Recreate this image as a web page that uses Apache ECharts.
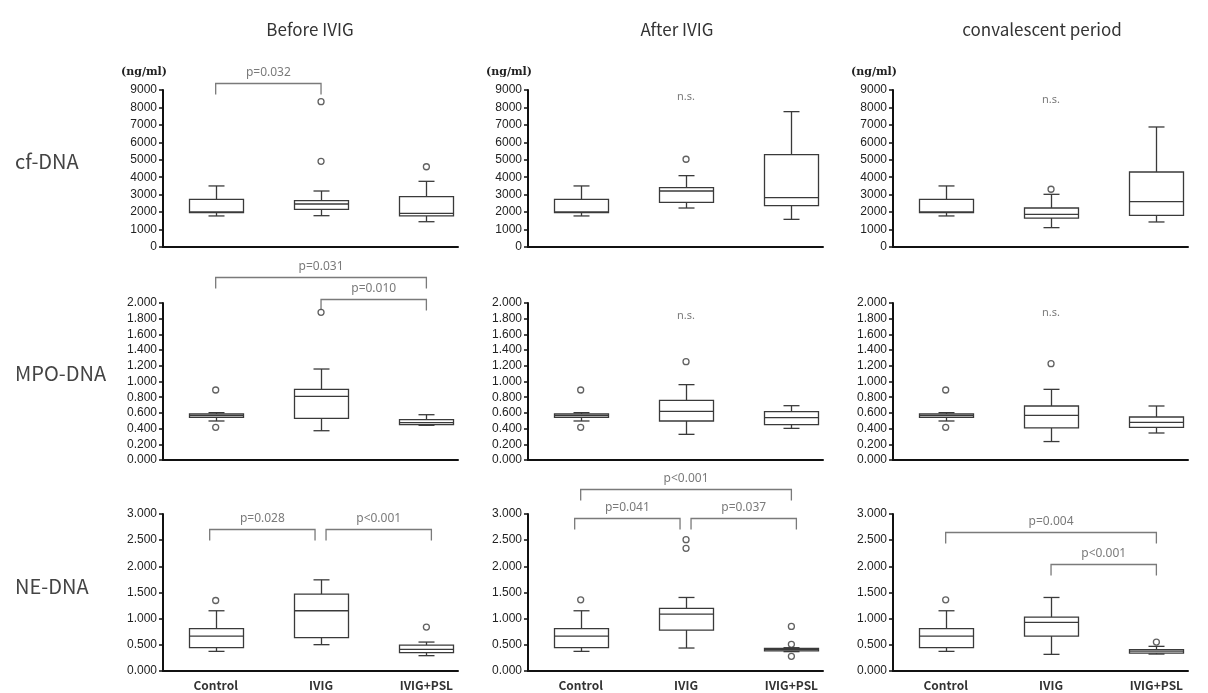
<!DOCTYPE html>
<html>
<head>
<meta charset="utf-8">
<title>cf-DNA / MPO-DNA / NE-DNA</title>
<script src="https://cdn.jsdelivr.net/npm/echarts@6/dist/echarts.min.js"></script>
<style>
  html, body { margin: 0; padding: 0; background: #fff; }
  #chart { width: 1208px; height: 693px; }
</style>
</head>
<body>
<div id="chart"></div>
<script>
const groups = ['Control', 'IVIG', 'IVIG+PSL']
const periods = ['Before IVIG', 'After IVIG', 'convalescent period']
const markers = ['cf-DNA', 'MPO-DNA', 'NE-DNA']

// 箱：[min, Q1, median, Q3, max]，按 Control / IVIG / IVIG+PSL
const cfBefore = [[1780, 1970, 2010, 2730, 3500], [1795, 2160, 2465, 2655, 3210], [1450, 1780, 1930, 2885, 3765]]
const cfAfter = [[1780, 1970, 2010, 2730, 3500], [2235, 2560, 3210, 3400, 4090], [1585, 2370, 2830, 5295, 7760]]
const cfConv = [[1780, 1970, 2010, 2730, 3500], [1110, 1660, 1875, 2235, 3020], [1435, 1815, 2600, 4300, 6880]]
const mpoBefore = [[0.497, 0.544, 0.565, 0.586, 0.603], [0.373, 0.531, 0.811, 0.900, 1.159], [0.442, 0.450, 0.475, 0.514, 0.577]]
const mpoAfter = [[0.497, 0.544, 0.565, 0.586, 0.603], [0.327, 0.497, 0.620, 0.760, 0.960], [0.403, 0.450, 0.539, 0.616, 0.692]]
const mpoConv = [[0.497, 0.544, 0.565, 0.586, 0.603], [0.235, 0.408, 0.569, 0.688, 0.900], [0.344, 0.416, 0.480, 0.548, 0.688]]
const neBefore = [[0.375, 0.446, 0.667, 0.808, 1.151], [0.503, 0.636, 1.151, 1.468, 1.742], [0.293, 0.350, 0.414, 0.496, 0.553]]
const neAfter = [[0.375, 0.446, 0.667, 0.808, 1.151], [0.439, 0.782, 1.086, 1.195, 1.405], [0.370, 0.385, 0.410, 0.430, 0.445]]
const neConv = [[0.375, 0.446, 0.667, 0.808, 1.151], [0.318, 0.667, 0.928, 1.030, 1.405], [0.324, 0.343, 0.380, 0.408, 0.471]]

// 离群点：[组, 值]
const cfBeforeOut = [[1, 8330], [1, 4910], [2, 4600]]
const cfAfterOut = [[1, 5030]]
const cfConvOut = [[1, 3310]]
const mpoBeforeOut = [[0, 0.892], [0, 0.416], [1, 1.881]]
const mpoAfterOut = [[0, 0.892], [0, 0.416], [1, 1.252]]
const mpoConvOut = [[0, 0.892], [0, 0.416], [1, 1.227]]
const neBeforeOut = [[0, 1.347], [2, 0.839]]
const neAfterOut = [[0, 1.36], [1, 2.51], [1, 2.345], [2, 0.852], [2, 0.509], [2, 0.280]]
const neConvOut = [[0, 1.36], [2, 0.553]]

// 显著性括号：[起组, 止组, 高度, 文本]
const cfBeforeSig = [[0, 1, 9400, 'p=0.032']]
const mpoBeforeSig = [[0, 2, 2.331, 'p=0.031'], [1, 2, 2.051, 'p=0.010']]
const neBeforeSig = [[0, 1, 2.72, 'p=0.028'], [1, 2, 2.72, 'p<0.001']]
const neAfterSig = [[0, 2, 3.48, 'p<0.001'], [0, 1, 2.93, 'p=0.041'], [1, 2, 2.93, 'p=0.037']]
const neConvSig = [[0, 2, 2.66, 'p=0.004'], [1, 2, 2.05, 'p<0.001']]

// n.s. 标注：[组, 高度]
const cfAfterNs = [[1, 8600]]
const cfConvNs = [[1, 8430]]
const mpoAfterNs = [[1, 1.834]]
const mpoConvNs = [[1, 1.873]]

// y 轴刻度
const yMax = [9000, 2, 3]
const yStep = [1000, 0.2, 0.5]
const yDigits = [0, 3, 3]

const panels = [
  { box: cfBefore, out: cfBeforeOut, sig: cfBeforeSig, ns: [] },
  { box: cfAfter, out: cfAfterOut, sig: [], ns: cfAfterNs },
  { box: cfConv, out: cfConvOut, sig: [], ns: cfConvNs },
  { box: mpoBefore, out: mpoBeforeOut, sig: mpoBeforeSig, ns: [] },
  { box: mpoAfter, out: mpoAfterOut, sig: [], ns: mpoAfterNs },
  { box: mpoConv, out: mpoConvOut, sig: [], ns: mpoConvNs },
  { box: neBefore, out: neBeforeOut, sig: neBeforeSig, ns: [] },
  { box: neAfter, out: neAfterOut, sig: neAfterSig, ns: [] },
  { box: neConv, out: neConvOut, sig: neConvSig, ns: [] }
]

const gridLeft = [163, 528, 893]
const gridTop = [90, 303, 514]
const LINE = '#3a3a3a'
const GREY = '#7a7a7a'

const renderBox = (params, api) => {
  const g = api.value(0)
  const lo = api.coord([g, api.value(1)])
  const q1 = api.coord([g, api.value(2)])
  const md = api.coord([g, api.value(3)])
  const q3 = api.coord([g, api.value(4)])
  const hi = api.coord([g, api.value(5)])
  const cx = Math.round(lo[0]) + 0.5
  const hw = 27, cw = 8
  const seg = (x1, y1, x2, y2) => ({
    type: 'line', shape: { x1, y1, x2, y2 }, style: { stroke: LINE, lineWidth: 1.3 }
  })
  return {
    type: 'group',
    children: [
      seg(cx, hi[1], cx, q3[1]),
      seg(cx - cw, hi[1], cx + cw, hi[1]),
      seg(cx, q1[1], cx, lo[1]),
      seg(cx - cw, lo[1], cx + cw, lo[1]),
      { type: 'rect', shape: { x: cx - hw, y: q3[1], width: hw * 2, height: q1[1] - q3[1] },
        style: { fill: '#fff', stroke: LINE, lineWidth: 1.3 } },
      seg(cx - hw, md[1], cx + hw, md[1])
    ]
  }
}

const makeBracket = (list) => (params, api) => {
  const [from, to, h, text] = list[params.dataIndex]
  const a = api.coord([from, h])
  const b = api.coord([to, h])
  // 同一高度相邻的括号在中间组处错开
  let x1 = a[0], x2 = b[0]
  if (list.some(o => o[0] === to && o[2] === h)) { x1 -= 6; x2 -= 6 }
  if (list.some(o => o[1] === from && o[2] === h)) { x1 += 5; x2 += 5 }
  const y = Math.round(a[1]) + 0.5
  return {
    type: 'group',
    children: [
      { type: 'polyline', shape: { points: [[x1, y + 11], [x1, y], [x2, y], [x2, y + 11]] },
        style: { stroke: GREY, lineWidth: 1.3, fill: null } },
      { type: 'text', x: (x1 + x2) / 2, y: y - 5,
        style: { text, fill: GREY, font: '12px "Noto Sans", sans-serif', textAlign: 'center', textVerticalAlign: 'bottom' } }
    ]
  }
}

const renderNs = (params, api) => {
  const p = api.coord([api.value(0), api.value(1)])
  return {
    type: 'text', x: p[0], y: p[1],
    style: { text: 'n.s.', fill: GREY, font: '11px "Noto Sans", sans-serif', textAlign: 'center', textVerticalAlign: 'middle' }
  }
}

const grid = [], xAxis = [], yAxis = [], series = []
panels.forEach((pn, i) => {
  const row = Math.floor(i / 3), col = i % 3
  grid.push({ left: gridLeft[col], top: gridTop[row], width: 295, height: 157 })
  xAxis.push({
    type: 'value', gridIndex: i, min: -0.5, max: 2.3,
    splitLine: { show: false },
    axisLine: { show: true, onZero: false, lineStyle: { color: '#111', width: 2 } },
    axisTick: { show: false },
    axisLabel: {
      show: row === 2, customValues: [0, 1, 2], margin: 8,
      formatter: v => groups[v] || '',
      color: '#333', fontSize: 12, fontWeight: 'bold', fontFamily: '"Noto Sans CJK JP", sans-serif'
    }
  })
  yAxis.push({
    type: 'value', gridIndex: i, min: 0, max: yMax[row], interval: yStep[row],
    name: row === 0 ? '(ng/ml)' : '', nameLocation: 'end', nameGap: 12,
    nameTextStyle: { align: 'right', padding: [0, -4, 0, 0], color: '#222', fontSize: 11, fontWeight: 'bold', fontFamily: '"DejaVu Serif", serif' },
    splitLine: { show: false },
    axisLine: { show: true, onZero: false, lineStyle: { color: '#111', width: 2 } },
    axisTick: { show: true, length: 4, lineStyle: { color: '#111', width: 1.5 } },
    axisLabel: {
      margin: 6, color: '#222', fontSize: 12, fontFamily: '"Liberation Sans", sans-serif',
      formatter: v => v.toFixed(yDigits[row])
    }
  })
  series.push({
    type: 'custom', xAxisIndex: i, yAxisIndex: i,
    data: pn.box.map((b, g) => [g, ...b]),
    encode: { x: 0, y: [1, 2, 3, 4, 5] },
    renderItem: renderBox, silent: true
  })
  series.push({
    type: 'scatter', xAxisIndex: i, yAxisIndex: i, data: pn.out,
    symbol: 'circle', symbolSize: 6, silent: true, z: 3,
    itemStyle: { color: '#fff', borderColor: LINE, borderWidth: 1.3 }
  })
  if (pn.sig.length) {
    series.push({
      type: 'custom', xAxisIndex: i, yAxisIndex: i, clip: false,
      data: pn.sig.map(s => [s[0], s[2]]), encode: { x: 0, y: 1 },
      renderItem: makeBracket(pn.sig), silent: true
    })
  }
  if (pn.ns.length) {
    series.push({
      type: 'custom', xAxisIndex: i, yAxisIndex: i, clip: false,
      data: pn.ns, encode: { x: 0, y: 1 }, renderItem: renderNs, silent: true
    })
  }
})

const titleStyle = { color: '#333', fontSize: 17, fontWeight: 'normal', fontFamily: '"Noto Sans CJK JP", sans-serif' }
const rowStyle = { color: '#444', fontSize: 20, fontWeight: 'normal', fontFamily: '"Noto Sans CJK JP", sans-serif' }
const title = [
  ...periods.map((t, c) => ({ text: t, left: [305, 672, 1037][c], top: 16, textAlign: 'center', textStyle: titleStyle })),
  ...markers.map((t, r) => ({ text: t, left: 10, top: [146, 358, 571][r], textStyle: rowStyle }))
]

const chart = echarts.init(document.getElementById('chart'))
chart.setOption({ animation: false, title, grid, xAxis, yAxis, series })
</script>
</body>
</html>
